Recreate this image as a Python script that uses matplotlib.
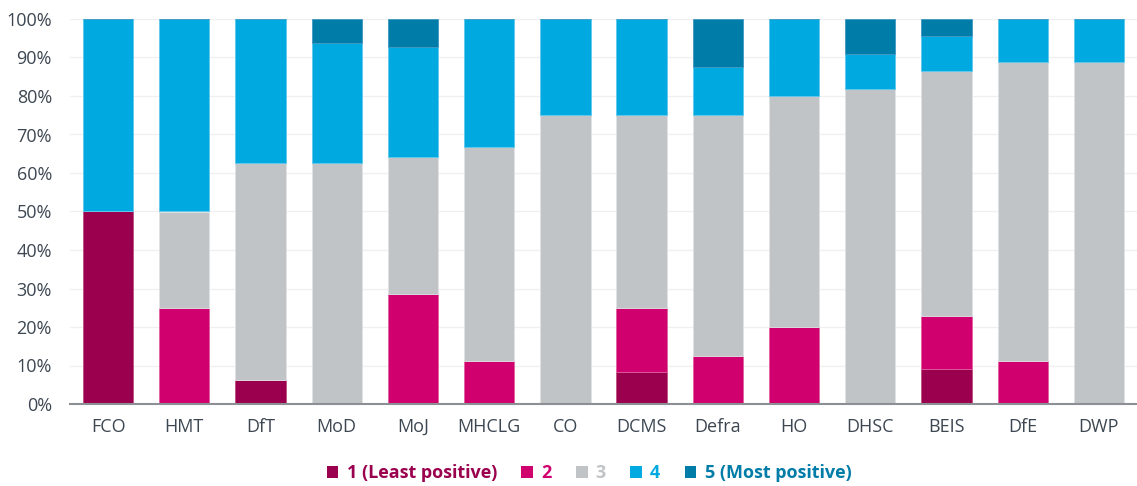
import numpy as np
import matplotlib.pyplot as plt
from matplotlib.patches import Patch

plt.rcParams['font.family'] = ['Open Sans', 'DejaVu Sans']

departments = ['FCO', 'HMT', 'DfT', 'MoD', 'MoJ', 'MHCLG', 'CO', 'DCMS',
               'Defra', 'HO', 'DHSC', 'BEIS', 'DfE', 'DWP']

# share of responses (%) per rating
r1 = [50, 0, 6.25, 0, 0, 0, 0, 8.33, 0, 0, 0, 9.09, 0, 0]
r2 = [0, 25, 0, 0, 28.57, 11.11, 0, 16.67, 12.5, 20, 0, 13.64, 11.11, 0]
r3 = [0, 25, 56.25, 62.5, 35.71, 55.56, 75, 50, 62.5, 60, 81.82, 63.64, 77.78, 88.89]
r4 = [50, 50, 37.5, 31.25, 28.57, 33.33, 25, 25, 12.5, 20, 9.09, 9.09, 11.11, 11.11]
r5 = [0, 0, 0, 6.25, 7.14, 0, 0, 0, 12.5, 0, 9.09, 4.55, 0, 0]

series = [r1, r2, r3, r4, r5]
labels = ['1 (Least positive)', '2', '3', '4', '5 (Most positive)']
colors = ['#9a004d', '#d0006f', '#c1c4c7', '#00a9e0', '#007ca8']
edges = ['#c0507f', '#e060a0', '#dfe1e3', '#60c8ee', '#4098c0']

fig = plt.figure(figsize=(11.37, 4.86), dpi=100)
ax = fig.add_axes([70 / 1137, 1 - 404 / 486, 1067 / 1137, 385 / 486])

x = np.arange(len(departments))
bottom = np.zeros(len(departments))
for vals, c, ec in zip(series, colors, edges):
    vals = np.array(vals)
    ax.bar(x, vals, width=0.66, bottom=bottom, color=c, edgecolor=ec,
           linewidth=0.6, zorder=3)
    bottom += vals

ax.set_xlim(-0.5, len(departments) - 0.5)
ax.set_ylim(0, 100)
ax.set_yticks(np.arange(0, 101, 10))
ax.set_yticklabels([f'{v}%' for v in range(0, 101, 10)])
ax.set_xticks(x)
ax.set_xticklabels(departments)
ax.tick_params(axis='both', length=0, labelsize=13, colors='#3d4752')
ax.tick_params(axis='x', pad=10)
ax.tick_params(axis='y', pad=13)
ax.grid(axis='y', color='#f0f0f0', linewidth=1, zorder=0)
for s in ['top', 'right', 'left']:
    ax.spines[s].set_visible(False)
ax.spines['bottom'].set_color('#8c9094')
ax.spines['bottom'].set_linewidth(1.5)
ax.spines['bottom'].set_zorder(4)

handles = [Patch(facecolor=c, edgecolor='none') for c in colors]
leg = fig.legend(handles, labels, loc='center', bbox_to_anchor=(589 / 1137, 1 - 473 / 486),
                 ncol=5, frameon=False, handlelength=0.65, handleheight=0.65,
                 handletextpad=0.45, columnspacing=1.35,
                 prop={'size': 13, 'weight': 'bold'})
for t, c in zip(leg.get_texts(), colors):
    t.set_color(c)

fig.savefig('out.png', dpi=100)
